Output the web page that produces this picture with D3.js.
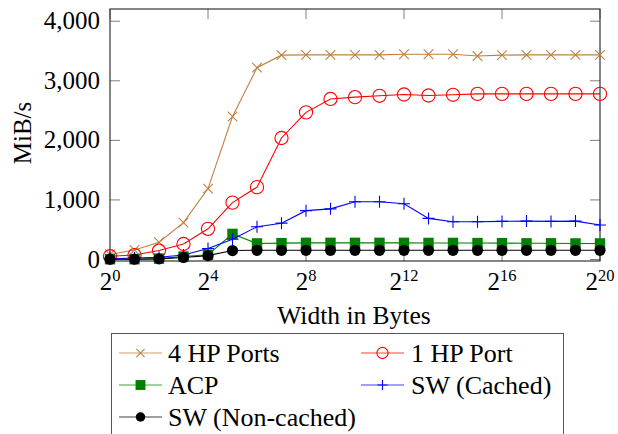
<!DOCTYPE html>
<html><head><meta charset="utf-8">
<script src="https://cdn.jsdelivr.net/npm/d3@7"></script>
<style>html,body{margin:0;padding:0;background:#fff;}svg{display:block;}</style>
</head><body>
<svg id="c" width="618" height="434"></svg>
<script>
const exponents = [0,1,2,3,4,5,6,7,8,9,10,11,12,13,14,15,16,17,18,19,20];
const xTickExps = [0,4,8,12,16,20];
const yTicks = [0,1000,2000,3000,4000];
const hp4  = [85,160,290,620,1190,2400,3220,3430,3435,3435,3435,3435,3445,3445,3445,3415,3430,3435,3435,3435,3435];
const hp1  = [55,75,150,260,515,955,1215,2040,2470,2695,2725,2748,2770,2753,2765,2780,2780,2780,2780,2780,2780];
const acp  = [5,5,15,50,80,430,270,275,280,280,280,280,280,278,278,276,275,272,272,270,270];
const swc  = [12,25,37,75,185,340,550,610,820,850,970,970,935,690,635,635,640,645,640,645,580];
const swn  = [5,5,10,35,65,150,155,155,155,155,155,155,155,155,155,155,155,155,155,155,155];
const seriesNames = ["4 HP Ports","1 HP Port","ACP","SW (Cached)","SW (Non-cached)"];

const series = [
  {name: seriesNames[0], values: hp4, color: "#BF8040", marker: "x"},
  {name: seriesNames[1], values: hp1, color: "#FF0000", marker: "o"},
  {name: seriesNames[2], values: acp, color: "#008000", marker: "square"},
  {name: seriesNames[3], values: swc, color: "#0000FF", marker: "plus"},
  {name: seriesNames[4], values: swn, color: "#000000", marker: "dot"}
];

const FONT = "'Liberation Serif','Times New Roman',serif";
const svg = d3.select("#c");
const L = 110, R = 600, T = 9, B = 261;
const x = d3.scaleLinear().domain([0,20]).range([L,R]);
const y = d3.scaleLinear().domain([-25,4205]).range([B,T]);

// ticks (inward, both sides)
const tk = 10;
const g = svg.append("g");
yTicks.forEach(v => {
  g.append("line").attr("x1",L).attr("x2",L+tk).attr("y1",y(v)).attr("y2",y(v)).attr("stroke","#7f7f7f").attr("stroke-width",1);
  g.append("line").attr("x1",R-tk).attr("x2",R).attr("y1",y(v)).attr("y2",y(v)).attr("stroke","#7f7f7f").attr("stroke-width",1);
  g.append("text").attr("x",100).attr("y",y(v)+8).attr("text-anchor","end")
    .attr("font-family",FONT).attr("font-size",25).attr("fill","#000")
    .text(d3.format(",")(v));
});
xTickExps.forEach(e => {
  g.append("line").attr("x1",x(e)).attr("x2",x(e)).attr("y1",B).attr("y2",B-tk).attr("stroke","#7f7f7f").attr("stroke-width",1);
  g.append("line").attr("x1",x(e)).attr("x2",x(e)).attr("y1",T).attr("y2",T+tk).attr("stroke","#7f7f7f").attr("stroke-width",1);
  const t = g.append("text").attr("x",x(e)).attr("y",290).attr("text-anchor","middle")
    .attr("font-family",FONT).attr("fill","#000");
  t.append("tspan").attr("font-size",25).text("2");
  t.append("tspan").attr("font-size",16.5).attr("dy",-9).text(String(e));
});

// box
svg.append("rect").attr("x",L).attr("y",T).attr("width",R-L).attr("height",B-T)
  .attr("fill","none").attr("stroke","#222").attr("stroke-width",1.1);

function drawMarker(sel, type, color, cx, cy, s) {
  s = s || 1;
  if (type === "x") {
    const d = 4.8*s;
    sel.append("path").attr("d",`M${cx-d},${cy-d}L${cx+d},${cy+d}M${cx-d},${cy+d}L${cx+d},${cy-d}`)
      .attr("stroke",color).attr("stroke-width",1.1).attr("fill","none");
  } else if (type === "o") {
    sel.append("circle").attr("cx",cx).attr("cy",cy).attr("r",6.6*s)
      .attr("fill","#fff").attr("fill-opacity",0).attr("stroke",color).attr("stroke-width",1.1);
  } else if (type === "square") {
    const h = 5.2*s;
    sel.append("rect").attr("x",cx-h).attr("y",cy-h).attr("width",2*h).attr("height",2*h).attr("fill",color);
  } else if (type === "plus") {
    const d = 6*s;
    sel.append("path").attr("d",`M${cx-d},${cy}L${cx+d},${cy}M${cx},${cy-d}L${cx},${cy+d}`)
      .attr("stroke",color).attr("stroke-width",1.1).attr("fill","none");
  } else if (type === "dot") {
    sel.append("circle").attr("cx",cx).attr("cy",cy).attr("r",5.6*s).attr("fill",color);
  }
}

const line = d3.line().x((d,i)=>x(exponents[i])).y(d=>y(d));
series.forEach(s => {
  const sg = svg.append("g");
  sg.append("path").datum(s.values).attr("d",line).attr("fill","none")
    .attr("stroke",s.color).attr("stroke-width",1.1);
  s.values.forEach((v,i) => drawMarker(sg, s.marker, s.color, x(exponents[i]), y(v)));
});

// axis labels
svg.append("text").attr("x",(L+R)/2 - 1).attr("y",324).attr("text-anchor","middle")
  .attr("font-family",FONT).attr("font-size",25.5).attr("fill","#000").text("Width in Bytes");
svg.append("text").attr("transform","translate(31,133) rotate(-90)").attr("text-anchor","middle")
  .attr("font-family",FONT).attr("font-size",25).attr("fill","#000").text("MiB/s");

// legend
const lg = svg.append("g");
lg.append("rect").attr("x",111.5).attr("y",333.5).attr("width",452).attr("height",130)
  .attr("fill","#fff").attr("stroke","#555").attr("stroke-width",1);
const cols = [{x1:119,x2:162,tx:168},{x1:361,x2:404,tx:411}];
const rows = [353,385,417];
series.forEach((s,i) => {
  const c = cols[i%2], ry = rows[Math.floor(i/2)];
  lg.append("line").attr("x1",c.x1).attr("x2",c.x2).attr("y1",ry).attr("y2",ry)
    .attr("stroke",s.color).attr("stroke-width",1.1).attr("stroke-opacity", 0.75);
  drawMarker(lg, s.marker, s.color, (c.x1+c.x2)/2, ry, s.marker === "square" ? 0.95 : 0.85);
  lg.append("text").attr("x",c.tx).attr("y",ry+8.5).attr("font-family",FONT)
    .attr("font-size",26).attr("fill","#000").text(s.name);
});
</script>
</body></html>
